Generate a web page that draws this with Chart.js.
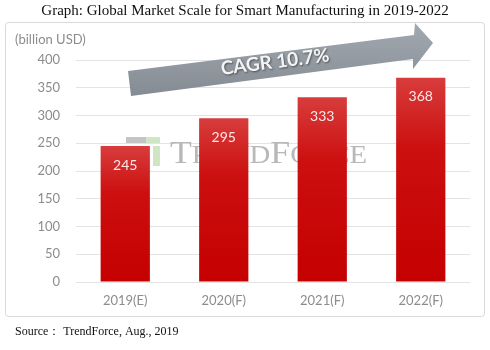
<!DOCTYPE html>
<html><head><meta charset="utf-8">
<script src="https://cdn.jsdelivr.net/npm/chart.js@4"></script>
<style>html,body{margin:0;padding:0;background:#fff}#wrap{width:490px;height:350px}</style>
</head><body><div id="wrap"><canvas id="c" width="490" height="350"></canvas></div>
<script>
const categories = ['2019(E)', '2020(F)', '2021(F)', '2022(F)'];
const marketValues = [245, 295, 333, 368];
const yTickValues = [0, 50, 100, 150, 200, 250, 300, 350, 400];
const titleText = 'Graph: Global Market Scale for Smart Manufacturing in 2019-2022';
const unitText = '(billion USD)';
const sourceText = 'Source\uFF1A TrendForce, Aug., 2019';
const cagrText = 'CAGR 10.7%';

const sans = 'Lato, "Open Sans", sans-serif';
const serif = '"Liberation Serif", "Times New Roman", serif';

const decor = {
  id: 'decor',
  beforeDraw(chart) {
    const ctx = chart.ctx;
    ctx.save();
    ctx.fillStyle = '#fff';
    ctx.fillRect(0, 0, chart.width, chart.height);
    // frame
    ctx.strokeStyle = '#d9d9d9';
    ctx.lineWidth = 1;
    ctx.beginPath();
    ctx.roundRect(5.5, 22.5, 479, 294, 3);
    ctx.stroke();
    // title
    ctx.fillStyle = '#111';
    ctx.font = '15px ' + serif;
    ctx.textAlign = 'center';
    ctx.textBaseline = 'middle';
    ctx.fillText(titleText, 245, 11);
    // source
    ctx.textAlign = 'left';
    ctx.font = '12px ' + serif;
    ctx.fillText(sourceText, 15, 332);
    // unit
    ctx.fillStyle = '#8c8c8c';
    ctx.font = '13px ' + sans;
    ctx.fillText(unitText, 15, 40);
    ctx.restore();
  },
  beforeDatasetsDraw(chart) {
    const ctx = chart.ctx;
    ctx.save();
    // watermark logo
    ctx.fillStyle = '#c4c4c4';
    ctx.fillRect(126, 137, 20, 6);
    ctx.fillStyle = '#cfe6c4';
    ctx.fillRect(146, 137, 14, 6);
    ctx.fillRect(153, 146, 7, 20);
    // watermark text
    ctx.fillStyle = '#b8b8b8';
    ctx.textBaseline = 'alphabetic';
    ctx.textAlign = 'left';
    const parts = [['T', 31], ['REND', 25], ['F', 31], ['ORCE', 25]];
    let w = 0;
    parts.forEach(p => { ctx.font = p[1] + 'px ' + serif; w += ctx.measureText(p[0]).width; });
    const target = 197;
    ctx.translate(170, 163);
    ctx.scale(target / w, 1);
    let x = 0;
    parts.forEach(p => { ctx.font = p[1] + 'px ' + serif; ctx.fillText(p[0], x, 0); x += ctx.measureText(p[0]).width; });
    ctx.restore();
  },
  afterDatasetsDraw(chart) {
    const ctx = chart.ctx;
    ctx.save();
    // value labels
    const meta = chart.getDatasetMeta(0);
    ctx.fillStyle = '#fbeaea';
    ctx.font = '14px ' + sans;
    ctx.textAlign = 'center';
    ctx.textBaseline = 'middle';
    meta.data.forEach((el, i) => {
      ctx.fillText(String(marketValues[i]), el.x, el.y + 19);
    });
    // CAGR arrow
    const g = ctx.createLinearGradient(0, 23, 0, 96);
    g.addColorStop(0, '#a3a9b0');
    g.addColorStop(1, '#848b93');
    ctx.fillStyle = g;
    ctx.beginPath();
    ctx.moveTo(131, 96);
    ctx.lineTo(128, 71);
    ctx.lineTo(414, 35);
    ctx.lineTo(415, 23);
    ctx.lineTo(433, 43);
    ctx.lineTo(413, 69);
    ctx.lineTo(413, 59);
    ctx.closePath();
    ctx.fill();
    ctx.translate(275, 62);
    ctx.rotate(-0.126);
    ctx.font = 'bold 19px ' + sans;
    ctx.shadowColor = 'rgba(0,0,0,0.45)';
    ctx.shadowBlur = 2;
    ctx.shadowOffsetX = 1;
    ctx.shadowOffsetY = 1;
    ctx.fillStyle = '#f4f4f4';
    ctx.fillText(cagrText, 0, 0);
    ctx.restore();
  }
};

new Chart(document.getElementById('c'), {
  type: 'bar',
  data: {
    labels: categories,
    datasets: [{
      data: marketValues,
      backgroundColor(context) {
        const chart = context.chart;
        const ca = chart.chartArea;
        if (!ca) return '#c80000';
        const ys = chart.scales.y;
        const top = ys.getPixelForValue(context.raw);
        const grad = chart.ctx.createLinearGradient(0, top, 0, ys.getPixelForValue(0));
        grad.addColorStop(0, '#d83c3c');
        grad.addColorStop(0.35, '#cc0f0f');
        grad.addColorStop(1, '#c50000');
        return grad;
      },
      borderWidth: 0,
      barPercentage: 0.5,
      categoryPercentage: 1
    }]
  },
  options: {
    responsive: false,
    animation: false,
    devicePixelRatio: 1,
    layout: { padding: { left: 0, right: 20, top: 60, bottom: 40 } },
    plugins: { legend: { display: false }, tooltip: { enabled: false }, title: { display: false } },
    scales: {
      x: {
        grid: { display: false, drawTicks: false },
        border: { display: false },
        ticks: { color: '#8c8c8c', font: { family: sans, size: 13 }, padding: 11 },
        afterFit(s) { s.height = 28; }
      },
      y: {
        min: 0, max: 400,
        afterBuildTicks(s) { s.ticks = yTickValues.map(v => ({ value: v })); },
        grid: { color: '#e3e3e3', drawTicks: false },
        border: { display: false },
        ticks: { color: '#8c8c8c', font: { family: sans, size: 13 }, padding: 16 },
        afterFit(s) { s.width = 76; }
      }
    }
  },
  plugins: [decor]
});
</script></body></html>
